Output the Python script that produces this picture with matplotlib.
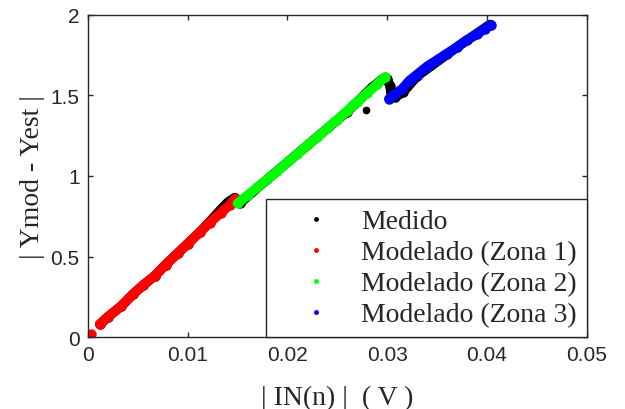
import numpy as np
import matplotlib
matplotlib.use("Agg")
import matplotlib.pyplot as plt
from matplotlib.lines import Line2D

nan = np.nan

# Medido (measured)
medido_x = [0.0012, 0.0020, 0.0033, 0.0045, 0.0055, 0.0067, 0.0078, 0.0090, 0.0100,
            0.0112, 0.0122, 0.0133, 0.0140, 0.0147, 0.0152, 0.0180,
            0.0220, 0.0260, 0.0285, 0.0295, 0.0300, 0.0303, 0.0304, 0.0308, 0.0316,
            0.0330, 0.0370, 0.0403]
medido_y = [0.08, 0.125, 0.19, 0.265, 0.32, 0.38, 0.45, 0.52, 0.58,
            0.65, 0.715, 0.79, 0.835, 0.865, 0.83, 0.98,
            1.19, 1.40, 1.55, 1.60, 1.60, 1.56, 1.52, 1.49, 1.52,
            1.62, 1.80, 1.94]
medido_out_x = [0.0279]
medido_out_y = [1.41]

# Modelado (Zona 1)
z1_x = [0.0003, nan, 0.0012, 0.0020, 0.0033, 0.0045, 0.0055, 0.0067, 0.0078, 0.0090,
        0.0100, 0.0112, 0.0122, 0.0133, 0.0142, 0.0148]
z1_y = [0.02, nan, 0.08, 0.125, 0.19, 0.265, 0.32, 0.38, 0.45, 0.52,
        0.58, 0.65, 0.71, 0.77, 0.82, 0.86]

# Modelado (Zona 2)
z2_x = [0.0150, 0.0160, 0.0170, 0.0180, 0.0190, 0.0200, 0.0210, 0.0220, 0.0230,
        0.0240, 0.0250, 0.0260, 0.0270, 0.0280, 0.0290, 0.0298]
z2_y = [0.83, 0.88, 0.93, 0.98, 1.03, 1.085, 1.135, 1.19, 1.24,
        1.295, 1.35, 1.405, 1.46, 1.515, 1.57, 1.615]

# Modelado (Zona 3)
z3_x = [0.0302, 0.0308, 0.0315, 0.0322, 0.0330, 0.0340, 0.0350, 0.0360, 0.0370,
        0.0380, 0.0390, 0.0398, 0.0404]
z3_y = [1.48, 1.51, 1.54, 1.59, 1.63, 1.68, 1.72, 1.76, 1.80,
        1.845, 1.88, 1.915, 1.94]

xticks = [0, 0.01, 0.02, 0.03, 0.04, 0.05]
xticklabels = ["0", "0.01", "0.02", "0.03", "0.04", "0.05"]
yticks = [0, 0.5, 1, 1.5, 2]
yticklabels = ["0", "0.5", "1", "1.5", "2"]
legend_labels = ["Medido", "Modelado (Zona 1)", "Modelado (Zona 2)", "Modelado (Zona 3)"]
colors = ["#000000", "#ff0000", "#00ff00", "#0000ff"]

fig = plt.figure(figsize=(6.25, 4.1), dpi=100)
ax = fig.add_axes([0.1408, 0.1756, 0.7976, 0.7854])

band = dict(linestyle="-", linewidth=7, marker="o", markersize=6.5,
            solid_capstyle="round", solid_joinstyle="round")
ax.plot(medido_x, medido_y, color=colors[0], **band)
ax.plot(medido_out_x, medido_out_y, color=colors[0], linestyle="none", marker="o", markersize=4.5)
ax.plot(z1_x, z1_y, color=colors[1], **band)
ax.plot(z2_x, z2_y, color=colors[2], **band)
ax.plot(z3_x, z3_y, color=colors[3], **band)

ax.set_xlim(0, 0.05)
ax.set_ylim(0, 2)
ax.set_xticks(xticks)
ax.set_xticklabels(xticklabels)
ax.set_yticks(yticks)
ax.set_yticklabels(yticklabels)

dark = "#262626"
for s in ax.spines.values():
    s.set_color(dark)
    s.set_linewidth(1.0)
ax.tick_params(direction="in", length=3.5, width=1.0, colors=dark,
               top=True, right=True, labelsize=15, pad=6)
for lab in ax.get_xticklabels() + ax.get_yticklabels():
    lab.set_family("Liberation Sans")

ax.set_xlabel("| IN(n) |  ( V )", family="Liberation Serif", fontsize=20, color=dark, labelpad=15)
ax.set_ylabel("| Ymod - Yest |", family="Liberation Serif", fontsize=20, color=dark, labelpad=4)

handles = [Line2D([], [], color=c, marker=".", linestyle="none", markersize=5) for c in colors]
leg = ax.legend(handles, legend_labels, loc="lower right", borderaxespad=0,
                prop={"family": "Liberation Serif", "size": 20},
                frameon=True, fancybox=False, framealpha=1, edgecolor=dark,
                handlelength=2.9, handletextpad=0.17, labelspacing=0.2, borderpad=0.35)
leg.get_frame().set_linewidth(1.0)
for t in leg.get_texts():
    t.set_color(dark)

fig.savefig("out.png", dpi=100)
